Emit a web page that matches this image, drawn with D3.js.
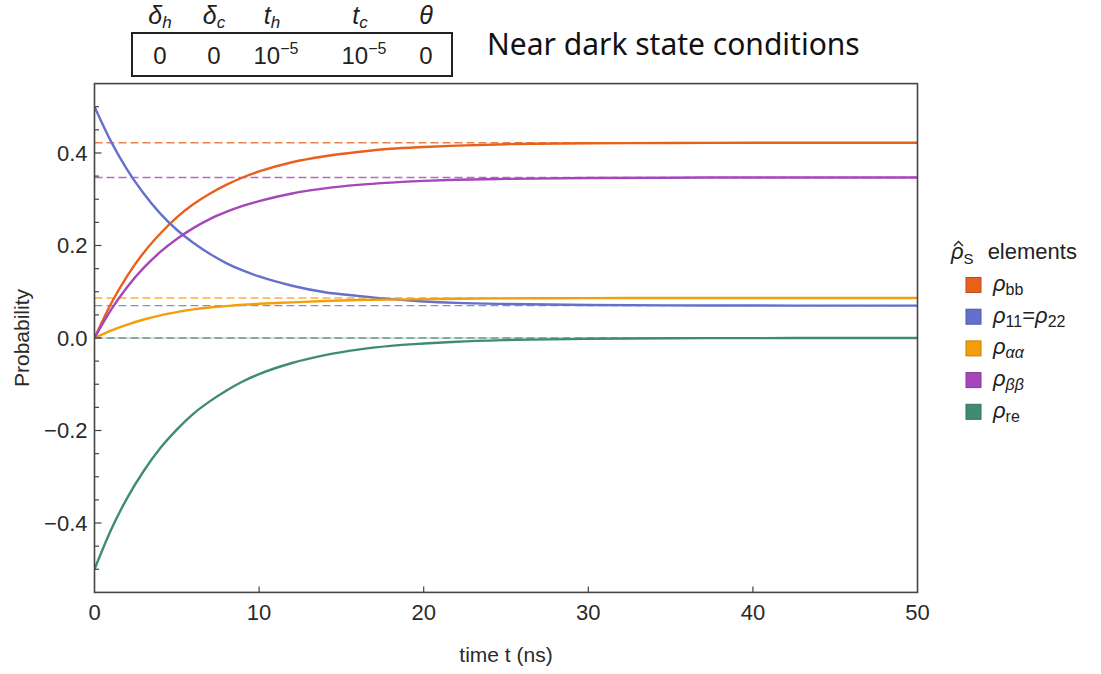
<!DOCTYPE html>
<html>
<head>
<meta charset="utf-8">
<script src="https://cdn.jsdelivr.net/npm/d3@7"></script>
<style>
body { margin: 0; background: #fff; }
text { font-family: "Liberation Sans", Arial, sans-serif; fill: #2a2a2a; }
</style>
</head>
<body>
<div id="chart"></div>
<script>
var width = 1101;
var height = 674;

var margin = {
    top: 83.6,
    left: 94.5,
    right: 183.5,
    bottom: 81.6
};
var plotW = width - margin.left - margin.right;
var plotH = height - margin.top - margin.bottom;

// data
var times = [0, 1, 2, 3, 4, 5, 6, 7, 8, 9, 10, 12, 14, 16, 18, 20, 22, 25, 30, 35, 40, 45, 50];
var rhoBB = [0, 0.074, 0.135, 0.185, 0.226, 0.261, 0.289, 0.312, 0.331, 0.347, 0.360, 0.380, 0.393, 0.402, 0.409, 0.413, 0.416, 0.419, 0.421, 0.4215, 0.422, 0.422, 0.422];
var rho11 = [0.5, 0.425, 0.363, 0.312, 0.269, 0.234, 0.206, 0.182, 0.162, 0.146, 0.133, 0.113, 0.099, 0.091, 0.084, 0.079, 0.076, 0.0735, 0.0713, 0.0705, 0.0702, 0.070, 0.070];
var rhoAA = [0, 0.016, 0.029, 0.040, 0.049, 0.056, 0.062, 0.066, 0.069, 0.072, 0.074, 0.077, 0.080, 0.082, 0.083, 0.084, 0.085, 0.0857, 0.0862, 0.0865, 0.0865, 0.0865, 0.0865];
var rhoBetaBeta = [0, 0.061, 0.111, 0.152, 0.186, 0.214, 0.2375, 0.257, 0.2725, 0.2855, 0.296, 0.3125, 0.3235, 0.331, 0.336, 0.3396, 0.342, 0.344, 0.3459, 0.3466, 0.347, 0.347, 0.347];
var rhoRe = [-0.5, -0.415, -0.345, -0.287, -0.238, -0.198, -0.164, -0.137, -0.114, -0.094, -0.078, -0.054, -0.037, -0.025, -0.017, -0.012, -0.008, -0.0045, -0.0017, -0.0006, -0.0002, 0, 0];

// steady state values (dashed lines)
var steady = [0.422, 0.070, 0.0865, 0.347, 0];

var seriesValues = [rhoBB, rho11, rhoAA, rhoBetaBeta, rhoRe];
var colors = ["#e8601c", "#6470cb", "#f59e0b", "#a546ba", "#3f8d6f"];

var xTicks = [0, 10, 20, 30, 40, 50];
var yTicks = [-0.4, -0.2, 0, 0.2, 0.4];
var yMinor = d3.range(-10, 11).map(d => d * 0.05);

// parameter table
var paramNames = [["δ", "h"], ["δ", "c"], ["t", "h"], ["t", "c"], ["θ", ""]];
var paramValues = [["0", ""], ["0", ""], ["10", "−5"], ["10", "−5"], ["0", ""]];

var svg = d3.select("#chart")
    .append("svg")
    .attr("width", width)
    .attr("height", height);

var x = d3.scaleLinear().domain([0, 50]).range([margin.left, margin.left + plotW]);
var y = d3.scaleLinear().domain([-0.55, 0.55]).range([margin.top + plotH, margin.top]);

svg.append("defs").append("clipPath").attr("id", "clip")
    .append("rect")
    .attr("x", margin.left).attr("y", margin.top)
    .attr("width", plotW).attr("height", plotH);

// dashed steady-state lines
svg.append("line")
    .attr("x1", x(0)).attr("x2", x(50))
    .attr("y1", y(0)).attr("y2", y(0))
    .attr("stroke", "#d6d6d6").attr("stroke-width", 1.4);

svg.append("g")
    .selectAll("line")
    .data(steady)
    .join("line")
    .attr("x1", x(0)).attr("x2", x(50))
    .attr("y1", d => y(d)).attr("y2", d => y(d))
    .attr("stroke", (d, i) => colors[i])
    .attr("stroke-opacity", 0.8)
    .attr("stroke-width", 1.4)
    .attr("stroke-dasharray", "8,4");

// curves
var line = d3.line()
    .x(d => x(d[0]))
    .y(d => y(d[1]))
    .curve(d3.curveMonotoneX);

svg.append("g")
    .attr("clip-path", "url(#clip)")
    .selectAll("path")
    .data(seriesValues)
    .join("path")
    .attr("fill", "none")
    .attr("stroke", (d, i) => colors[i])
    .attr("stroke-width", 2.4)
    .attr("stroke-linejoin", "round")
    .attr("d", d => line(d.map((v, i) => [times[i], v])));

// frame
svg.append("rect")
    .attr("x", margin.left).attr("y", margin.top)
    .attr("width", plotW).attr("height", plotH)
    .attr("fill", "none")
    .attr("stroke", "#444")
    .attr("stroke-width", 1.6);

// y ticks (inside)
svg.append("g")
    .selectAll("line")
    .data(yMinor)
    .join("line")
    .attr("x1", margin.left)
    .attr("x2", d => margin.left + (yTicks.some(t => Math.abs(t - d) < 1e-9) ? 7 : 4.5))
    .attr("y1", d => y(d)).attr("y2", d => y(d))
    .attr("stroke", "#444").attr("stroke-width", 1.2);

svg.append("g")
    .selectAll("text")
    .data(yTicks)
    .join("text")
    .attr("x", margin.left - 7)
    .attr("y", d => y(d))
    .attr("dy", "0.36em")
    .attr("text-anchor", "end")
    .style("font-size", "22px")
    .text(d => d3.format(".1f")(d).replace("-", "−"));

// x ticks (inside)
svg.append("g")
    .selectAll("line")
    .data(xTicks.slice(1, -1))
    .join("line")
    .attr("x1", d => x(d)).attr("x2", d => x(d))
    .attr("y1", margin.top + plotH).attr("y2", margin.top + plotH - 6)
    .attr("stroke", "#444").attr("stroke-width", 1.2);

svg.append("g")
    .selectAll("text")
    .data(xTicks)
    .join("text")
    .attr("x", d => x(d))
    .attr("y", margin.top + plotH + 28)
    .attr("text-anchor", "middle")
    .style("font-size", "22px")
    .text(d => d);

// axis titles
svg.append("text")
    .attr("transform", "translate(29," + y(0) + ") rotate(-90)")
    .attr("text-anchor", "middle")
    .style("font-size", "21px")
    .text("Probability");

svg.append("text")
    .attr("x", x(25))
    .attr("y", 662)
    .attr("text-anchor", "middle")
    .style("font-size", "21px")
    .text("time t (ns)");

// title
svg.append("text")
    .attr("x", 487)
    .attr("y", 55)
    .style("font-family", "'Noto Sans', 'Open Sans', sans-serif")
    .style("font-size", "30px")
    .style("fill", "#111")
    .text("Near dark state conditions");

// parameter table
var colX = [160, 214, 272, 360, 426];
svg.append("rect")
    .attr("x", 132).attr("y", 33)
    .attr("width", 320).attr("height", 43)
    .attr("fill", "none")
    .attr("stroke", "#222")
    .attr("stroke-width", 2);

var hdr = svg.append("g").selectAll("text")
    .data(paramNames)
    .join("text")
    .attr("x", (d, i) => colX[i])
    .attr("y", 24)
    .attr("text-anchor", "middle")
    .style("font-size", "25px")
    .style("font-style", "italic")
    .style("fill", "#222");
hdr.append("tspan").text(d => d[0]);
hdr.append("tspan")
    .attr("dy", 4)
    .style("font-size", "17px")
    .text(d => d[1]);

var vals = svg.append("g").selectAll("text")
    .data(paramValues)
    .join("text")
    .attr("x", (d, i) => colX[i] + (d[1] ? 4 : 0))
    .attr("y", 64)
    .attr("text-anchor", "middle")
    .style("font-size", "24px")
    .style("fill", "#222");
vals.append("tspan").text(d => d[0]);
vals.append("tspan")
    .attr("dy", -10)
    .style("font-size", "16px")
    .text(d => d[1]);

// legend
var legendItems = [
    { sub: "bb", italicSub: false },
    { sub: "11", italicSub: false, extra: "22" },
    { sub: "αα", italicSub: true },
    { sub: "ββ", italicSub: true },
    { sub: "re", italicSub: false }
];

var lt = svg.append("text")
    .attr("x", 951)
    .attr("y", 259)
    .style("font-size", "22px")
    .style("fill", "#222");
lt.append("tspan").style("font-style", "italic").text("ρ");
lt.append("tspan").attr("dy", 5).style("font-size", "15px").text("S");
lt.append("tspan").attr("dy", -5).attr("dx", 14).text("elements");
// hat over rho
svg.append("path")
    .attr("d", "M954,246 L958.5,241.5 L963,246")
    .attr("fill", "none")
    .attr("stroke", "#222")
    .attr("stroke-width", 1.4);

var leg = svg.selectAll(".legend")
    .data(legendItems)
    .join("g")
    .attr("class", "legend")
    .attr("transform", (d, i) => "translate(966," + (285 + i * 31.7) + ")");

leg.append("rect")
    .attr("x", 0).attr("y", -7.5)
    .attr("width", 15).attr("height", 15)
    .attr("fill", (d, i) => colors[i])
    .attr("stroke", (d, i) => d3.color(colors[i]).darker(0.6))
    .attr("stroke-width", 1);

var lg = leg.append("text")
    .attr("x", 27)
    .attr("y", 6)
    .style("font-size", "22px")
    .style("fill", "#222");
lg.append("tspan").style("font-style", "italic").text("ρ");
lg.append("tspan")
    .attr("dy", 4)
    .style("font-size", "16px")
    .style("font-style", d => d.italicSub ? "italic" : "normal")
    .text(d => d.sub);
lg.filter(d => d.extra)
    .append("tspan").attr("dy", -4).text("=");
lg.filter(d => d.extra)
    .append("tspan").style("font-style", "italic").text("ρ");
lg.filter(d => d.extra)
    .append("tspan").attr("dy", 4).style("font-size", "16px").text(d => d.extra);
</script>
</body>
</html>
